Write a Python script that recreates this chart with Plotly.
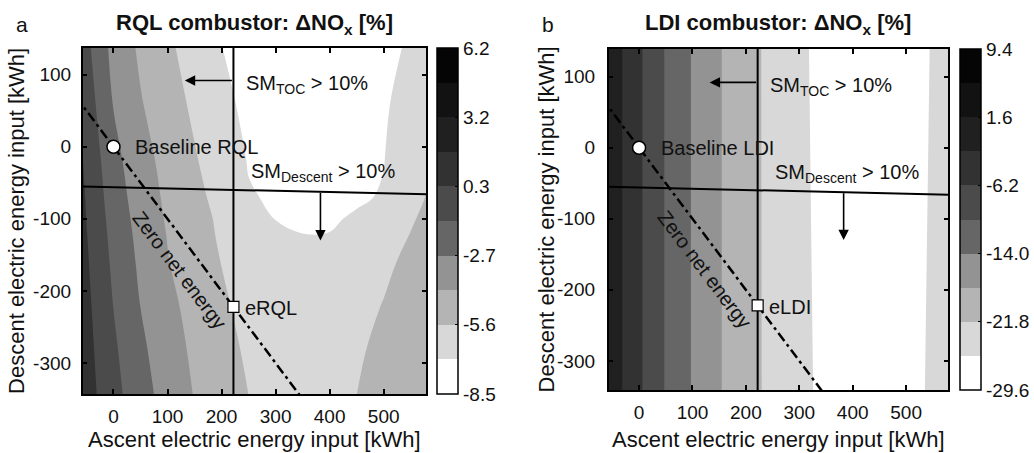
import plotly.graph_objects as go

FONT = "Liberation Sans, Arial, sans-serif"

# ---------------- data ----------------
# grid nodes (kWh)
x_nodes = [-60, 0, 50, 100, 150, 200, 250, 300, 350, 400, 450, 500, 550, 580]
y_nodes_rql = [140, 60, -20, -70, -100, -125, -160, -220, -280, -345]   # top -> bottom
# RQL ΔNOx [%] (rows follow y_nodes_rql)
z_rql = [
    [-0.34, -3.08, -4.34, -5.31, -6.18, -7.02, -7.56, -7.91, -8.09, -8.07, -7.85, -7.46, -6.84, -6.41],
    [0.10, -2.69, -3.99, -4.93, -5.82, -6.71, -7.32, -7.64, -7.78, -7.76, -7.56, -7.19, -6.52, -6.03],
    [0.47, -2.16, -3.53, -4.56, -5.43, -6.31, -7.09, -7.32, -7.44, -7.44, -7.31, -7.06, -6.25, -5.74],
    [0.64, -1.89, -3.30, -4.36, -5.19, -6.00, -6.95, -7.15, -7.24, -7.24, -7.16, -6.95, -6.20, -5.47],
    [0.70, -1.72, -3.15, -4.24, -5.06, -5.80, -6.55, -7.06, -7.16, -7.14, -6.92, -6.37, -5.69, -5.30],
    [0.78, -1.59, -3.03, -4.13, -4.94, -5.74, -6.22, -6.65, -7.00, -6.99, -6.60, -6.15, -5.50, -5.27],
    [0.88, -1.43, -2.89, -4.03, -4.81, -5.59, -6.28, -6.71, -6.90, -6.82, -6.50, -5.93, -5.15, -4.75],
    [1.03, -1.18, -2.64, -3.71, -4.58, -5.33, -6.03, -6.49, -6.65, -6.53, -6.15, -5.49, -4.83, -4.46],
    [1.14, -0.92, -2.34, -3.44, -4.36, -5.08, -5.78, -6.24, -6.40, -6.25, -5.81, -5.13, -4.65, -4.38],
    [1.25, -0.67, -2.05, -3.18, -4.15, -4.84, -5.56, -6.00, -6.15, -6.00, -5.56, -5.12, -4.75, -4.53],
]

x_nodes_ldi = [-60, -30, 0, 50, 100, 150, 200, 250, 300, 350, 400, 450, 500, 550, 580]
y_nodes_ldi = [140, -345]
# LDI ΔNOx [%]
z_ldi = [
    [0.70, -2.46, -5.62, -10.37, -14.23, -17.63, -20.44, -22.81, -24.88, -27.14, -28.55, -28.74, -27.69, -25.43, -23.79],
    [0.70, -2.46, -5.62, -10.37, -14.23, -17.63, -20.44, -22.74, -24.57, -26.75, -28.47, -28.74, -27.53, -24.92, -23.09],
]

# colour levels
rql_levels = dict(start=-8.5, end=6.2, size=1.4699999)
ldi_levels = dict(start=-29.6, end=9.4, size=3.8999999)
rql_cb_vals = [6.2, 3.26, 0.32, -2.62, -5.56, -8.5]
rql_cb_text = ["6.2", "3.2", "0.3", "-2.7", "-5.6", "-8.5"]
ldi_cb_vals = [9.4, 1.6, -6.2, -14.0, -21.8, -29.6]
ldi_cb_text = ["9.4", "1.6", "-6.2", "-14.0", "-21.8", "-29.6"]

band_colors = ["#ffffff", "#d8d8d8", "#b4b4b4", "#939393", "#666666",
               "#4b4b4b", "#323232", "#202020", "#121212", "#050505"]

x_ticks = [0, 100, 200, 300, 400, 500]
y_ticks = [-300, -200, -100, 0, 100]
y_tick_text = ["-300", "-200", "-100", "0", "100"]

# design points & constraint lines (kWh)
baseline_pt = (0, 0)
electric_pt = (222, -222)
sm_toc_x = [222, 222]
sm_toc_y = [-360, 160]
sm_desc_x = [-60, 580]
sm_desc_y = [-55, -66]
zero_x = [-70, 360]
zero_y = [70, -360]

x_range = [-57, 579]
y_range_l = [-343, 137]
y_range_r = [-341, 139]

# ---------------- figure ----------------
stepscale = []
for k, c in enumerate(band_colors):
    stepscale.append([k / 10, c])
    stepscale.append([(k + 1) / 10, c])

fig = go.Figure()


def cbar(xpos, ypos, length, vals, texts):
    return dict(x=xpos, xanchor="left", y=ypos, yanchor="middle", len=length, lenmode="fraction",
                thickness=21, thicknessmode="pixels", outlinecolor="black", outlinewidth=1.5,
                tickmode="array", tickvals=vals, ticktext=texts, ticks="inside", ticklen=3,
                tickcolor="black", tickfont=dict(family=FONT, size=19, color="#111"),
                xpad=0, ypad=0)


fig.add_trace(go.Contour(
    x=x_nodes, y=list(reversed(y_nodes_rql)), z=list(reversed(z_rql)),
    xaxis="x", yaxis="y", autocontour=False,
    contours=dict(start=rql_levels["start"], end=rql_levels["end"], size=rql_levels["size"],
                  coloring="fill", showlines=False),
    zmin=rql_levels["start"], zmax=rql_levels["end"], line=dict(width=0, smoothing=1.0),
    colorscale=stepscale, hoverinfo="skip",
    colorbar=cbar(439 / 1034, 1 - 221 / 453, 346 / 453, rql_cb_vals, rql_cb_text)))

fig.add_trace(go.Contour(
    x=x_nodes_ldi, y=list(reversed(y_nodes_ldi)), z=list(reversed(z_ldi)),
    xaxis="x2", yaxis="y2", autocontour=False,
    contours=dict(start=ldi_levels["start"], end=ldi_levels["end"], size=ldi_levels["size"],
                  coloring="fill", showlines=False),
    zmin=ldi_levels["start"], zmax=ldi_levels["end"], line=dict(width=0),
    colorscale=stepscale, hoverinfo="skip",
    colorbar=cbar(964 / 1034, 1 - 219.5 / 453, 341 / 453, ldi_cb_vals, ldi_cb_text)))

for xa, ya in [("x", "y"), ("x2", "y2")]:
    fig.add_trace(go.Scatter(x=zero_x, y=zero_y, xaxis=xa, yaxis=ya, mode="lines",
                             line=dict(color="black", width=2.5, dash="10px,4px,3px,4px"),
                             hoverinfo="skip", showlegend=False))
    fig.add_trace(go.Scatter(x=sm_toc_x, y=sm_toc_y, xaxis=xa, yaxis=ya, mode="lines",
                             line=dict(color="black", width=2), hoverinfo="skip", showlegend=False))
    fig.add_trace(go.Scatter(x=sm_desc_x, y=sm_desc_y, xaxis=xa, yaxis=ya, mode="lines",
                             line=dict(color="black", width=2), hoverinfo="skip", showlegend=False))
    fig.add_trace(go.Scatter(x=[baseline_pt[0]], y=[baseline_pt[1]], xaxis=xa, yaxis=ya, mode="markers",
                             marker=dict(symbol="circle", size=13, color="white",
                                         line=dict(color="black", width=1.5)),
                             hoverinfo="skip", showlegend=False))
    fig.add_trace(go.Scatter(x=[electric_pt[0]], y=[electric_pt[1]], xaxis=xa, yaxis=ya, mode="markers",
                             marker=dict(symbol="square", size=11, color="white",
                                         line=dict(color="black", width=1.2)),
                             hoverinfo="skip", showlegend=False))

axis_common = dict(showline=True, linecolor="black", linewidth=1.5, mirror="ticks", ticks="inside",
                   ticklen=5, tickwidth=1.5, tickcolor="black", showgrid=False, zeroline=False,
                   tickfont=dict(family=FONT, size=19, color="#111"))

fig.update_layout(
    width=1034, height=453, margin=dict(l=0, r=0, t=0, b=0),
    paper_bgcolor="white", plot_bgcolor="white", showlegend=False,
    font=dict(family=FONT, color="#111"),
    xaxis=dict(domain=[83 / 1034, 428 / 1034], range=x_range, tickmode="array", tickvals=x_ticks,
               ticklabelstandoff=4, **axis_common),
    yaxis=dict(domain=[1 - 394 / 453, 1 - 48 / 453], range=y_range_l, tickmode="array",
               tickvals=y_ticks, ticktext=y_tick_text, ticklabelstandoff=6, **axis_common),
    xaxis2=dict(domain=[611 / 1034, 952 / 1034], range=x_range, tickmode="array", tickvals=x_ticks,
                anchor="y2", ticklabelstandoff=4, **axis_common),
    yaxis2=dict(domain=[1 - 390 / 453, 1 - 49 / 453], range=y_range_r, tickmode="array",
                tickvals=y_ticks, ticktext=y_tick_text, anchor="x2", ticklabelstandoff=8, **axis_common),
)

ann = []
f20 = dict(family=FONT, size=20, color="#111")
for xr, yr, name in [("x", "y", "RQL"), ("x2", "y2", "LDI")]:
    ann += [
        dict(xref=xr, yref=yr, x=132, y=92, ax=222, ay=92, axref=xr, ayref=yr, text="",
             showarrow=True, arrowhead=2, arrowsize=1.3, arrowwidth=1.6, arrowcolor="black", standoff=0),
        dict(xref=xr, yref=yr, x=383, y=-130, ax=383, ay=-62, axref=xr, ayref=yr, text="",
             showarrow=True, arrowhead=2, arrowsize=1.3, arrowwidth=1.6, arrowcolor="black", standoff=0),
        dict(xref=xr, yref=yr, x=242, y=86, text="SM<sub>TOC</sub> > 10%", showarrow=False,
             xanchor="left", yanchor="middle", font=f20),
        dict(xref=xr, yref=yr, x=251, y=-36, text="SM<sub>Descent</sub> > 10%", showarrow=False,
             xanchor="left", yanchor="middle", font=f20),
        dict(xref=xr, yref=yr, x=37, y=0, text="Baseline " + name, showarrow=False,
             xanchor="left", yanchor="middle", font=f20),
        dict(xref=xr, yref=yr, x=240, y=-224, text="e" + name, showarrow=False,
             xanchor="left", yanchor="middle", font=f20),
        dict(xref=xr, yref=yr, x=122, y=-171, text="Zero net energy", showarrow=False,
             textangle=53, xanchor="center", yanchor="middle", font=f20),
    ]

ann += [
    dict(xref="paper", yref="paper", x=255.5 / 1034, y=1 - 24 / 453,
         text="<b>RQL combustor: \u0394NO<sub>x</sub> [%]</b>", showarrow=False,
         xanchor="center", yanchor="middle", font=dict(family=FONT, size=22, color="#111")),
    dict(xref="paper", yref="paper", x=781.5 / 1034, y=1 - 24 / 453,
         text="<b>LDI combustor: \u0394NO<sub>x</sub> [%]</b>", showarrow=False,
         xanchor="center", yanchor="middle", font=dict(family=FONT, size=22, color="#111")),
    dict(xref="paper", yref="paper", x=22 / 1034, y=1 - 24 / 453, text="a", showarrow=False,
         xanchor="center", yanchor="middle", font=dict(family=FONT, size=21, color="#111")),
    dict(xref="paper", yref="paper", x=550 / 1034, y=1 - 24 / 453, text="b", showarrow=False,
         xanchor="center", yanchor="middle", font=dict(family=FONT, size=21, color="#111")),
    dict(xref="paper", yref="paper", x=255.5 / 1034, y=0,
         text="Ascent electric energy input [kWh]", showarrow=False,
         xanchor="center", yanchor="bottom", borderpad=0,
         font=dict(family=FONT, size=22, color="#111")),
    dict(xref="paper", yref="paper", x=781.5 / 1034, y=0,
         text="Ascent electric energy input [kWh]", showarrow=False,
         xanchor="center", yanchor="bottom", borderpad=0,
         font=dict(family=FONT, size=22, color="#111")),
    dict(xref="paper", yref="paper", x=16 / 1034, y=1 - 221 / 453,
         text="Descent electric energy input [kWh]", showarrow=False, textangle=-90,
         xanchor="center", yanchor="middle", font=dict(family=FONT, size=22, color="#111")),
    dict(xref="paper", yref="paper", x=549 / 1034, y=1 - 219.5 / 453,
         text="Descent electric energy input [kWh]", showarrow=False, textangle=-90,
         xanchor="center", yanchor="middle", font=dict(family=FONT, size=22, color="#111")),
]
fig.update_layout(annotations=ann)

fig.write_html("out.html")
